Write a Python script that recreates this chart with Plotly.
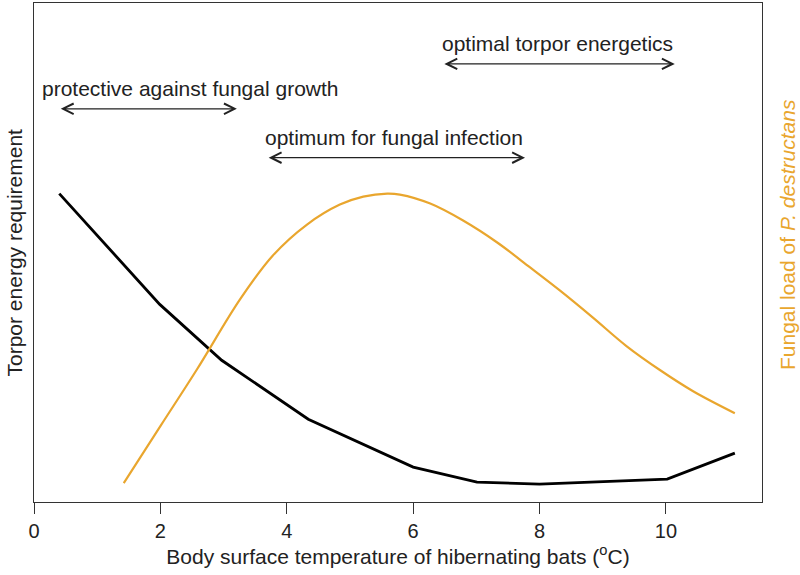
import plotly.graph_objects as go

# Torpor energy requirement (arbitrary units)
energy_temp = [0.40, 1.99, 2.97, 4.34, 6.00, 7.01, 8.00, 10.02, 11.09]
energy_req = [61.8, 39.6, 28.4, 16.6, 7.0, 4.0, 3.6, 4.6, 9.8]

# Fungal load of P. destructans (arbitrary units)
fungal_temp = [1.42, 2.01, 2.58, 3.26, 3.78, 4.32, 4.84, 5.21, 5.59, 5.79, 6.27, 6.79,
               7.33, 7.85, 8.32, 8.84, 9.38, 9.91, 10.43, 11.09]
fungal_load = [3.8, 15.4, 26.6, 40.6, 49.4, 55.6, 59.6, 61.2, 61.8, 61.6, 59.8, 56.4,
               52.0, 47.0, 42.4, 37.0, 31.2, 26.4, 22.2, 17.8]

x_ticks = [0, 2, 4, 6, 8, 10]

ORANGE = "#E9A62E"
TXT = "#222"
FONT = "Liberation Sans, Arial, sans-serif"

fig = go.Figure()
fig.add_trace(go.Scatter(x=energy_temp, y=energy_req, mode="lines",
                         line=dict(color="black", width=2.8), yaxis="y"))
fig.add_trace(go.Scatter(x=fungal_temp, y=fungal_load, mode="lines",
                         line=dict(color=ORANGE, width=2.2, shape="spline", smoothing=1.0),
                         yaxis="y2"))

# (label, arrow start, arrow end, arrow level, label centre)
arrows = [
    ("optimal torpor energetics", 6.47, 10.14, 87.8, 8.29),
    ("protective against fungal growth", 0.40, 3.21, 78.8, 2.48),
    ("optimum for fungal infection", 3.69, 7.77, 69.0, 5.70),
]
for text, x0, x1, y, xc in arrows:
    fig.add_annotation(x=x1, y=y, ax=x0, ay=y, xref="x", yref="y", axref="x", ayref="y",
                       showarrow=True, arrowhead=5, startarrowhead=5, arrowside="end+start",
                       arrowwidth=1.3, arrowcolor=TXT, arrowsize=1.6, startarrowsize=1.6, text="")
    fig.add_annotation(x=xc, y=y, xref="x", yref="y", text=text, showarrow=False,
                       yshift=20, font=dict(size=21, color=TXT, family=FONT))

# axis titles placed as annotations for exact positioning
fig.add_annotation(text="Torpor energy requirement", xref="paper", yref="paper",
                   x=0, y=0.5, xshift=-20, xanchor="center", yanchor="middle", textangle=-90,
                   showarrow=False, font=dict(size=21, color=TXT, family=FONT))
fig.add_annotation(text="Fungal load of <i>P. destructans</i>", xref="paper", yref="paper",
                   x=1, y=0.535, xshift=25, xanchor="center", yanchor="middle", textangle=-90,
                   showarrow=False, font=dict(size=21, color=ORANGE, family=FONT))

fig.update_layout(
    width=800, height=575,
    margin=dict(l=34, r=38, t=3, b=73),
    plot_bgcolor="white", paper_bgcolor="white",
    showlegend=False,
    font=dict(family=FONT, size=20, color=TXT),
    xaxis=dict(range=[0, 11.52], tickvals=x_ticks, ticks="outside", ticklen=11, tickwidth=1.3,
               tickcolor="#333", showline=True, linecolor="#333", linewidth=1.3, mirror=True,
               showgrid=False, zeroline=False, tickfont=dict(size=20, color=TXT),
               title=dict(text="Body surface temperature of hibernating bats (<sup>o</sup>C)",
                          standoff=4, font=dict(size=21, color=TXT))),
    yaxis=dict(range=[0, 100], showticklabels=False, ticks="", showline=True, linecolor="#333",
               linewidth=1.3, showgrid=False, zeroline=False),
    yaxis2=dict(range=[0, 100], overlaying="y", side="right", showticklabels=False, ticks="",
                showline=True, linecolor="#333", linewidth=1.3, showgrid=False, zeroline=False),
)

fig.write_html("out.html", config={"displayModeBar": False},
               post_script="document.body.style.margin='0px';")
